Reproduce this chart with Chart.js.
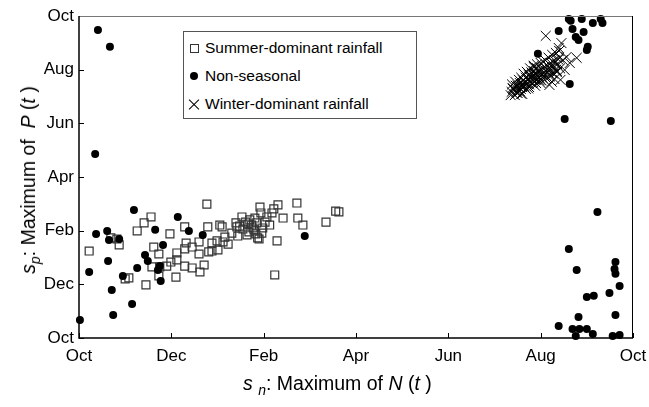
<!DOCTYPE html>
<html>
<head>
<meta charset="utf-8">
<script src="https://cdn.jsdelivr.net/npm/chart.js@4.4.1/dist/chart.umd.min.js"></script>
<style>
    body { margin: 0; background: #fff; }
    #wrap { position: relative; width: 649px; height: 407px; font-family: "Liberation Sans", Arial, sans-serif; color: #000; }
    #grafico { position: absolute; left: 0; top: 0; }
    .legenda { position: absolute; left: 183px; top: 31px; width: 232px; height: 86px; border: 1px solid #555; background: #fff; }
    .linha { position: absolute; left: 0; height: 20px; line-height: 20px; font-size: 15.5px; white-space: nowrap; }
    .linha span.txt { position: absolute; left: 21px; top: 0; }
    .quad { position: absolute; left: 6px; top: 6px; width: 7px; height: 7px; border: 1px solid #333; }
    .bola { position: absolute; left: 6px; top: 6px; width: 8px; height: 8px; border-radius: 50%; background: #000; }
    .xis { position: absolute; left: 4px; top: 4px; width: 12px; height: 12px; }
    .xis:before, .xis:after { content: ''; position: absolute; left: -1px; top: 5.5px; width: 14px; height: 1px; background: #000; }
    .xis:before { transform: rotate(45deg); }
    .xis:after { transform: rotate(-45deg); }
    .titulo { position: absolute; font-size: 19.5px; white-space: nowrap; }
    .titulo sub { font-size: 14px; vertical-align: -5px; }
</style>
</head>
<body>
<div id="wrap">
    <canvas id="grafico" width="649" height="407"></canvas>
    <div class="legenda">
        <div class="linha" style="top:6px"><div class="quad"></div><span class="txt">Summer-dominant rainfall</span></div>
        <div class="linha" style="top:34px"><div class="bola"></div><span class="txt">Non-seasonal</span></div>
        <div class="linha" style="top:62px"><div class="xis"></div><span class="txt">Winter-dominant rainfall</span></div>
    </div>
    <div class="titulo" style="left:243px;top:372px"><i>s</i> <sub><i>n</i></sub>: Maximum of <i>N</i> (<i>t</i> )</div>
    <div class="titulo" style="left:30px;top:180px;transform:translate(-50%,-50%) rotate(-90deg)"><i>s</i><sub><i>p</i></sub>: Maximum of &nbsp;<i>P</i> (<i>t</i> )</div>
</div>
<script>
// meses contados a partir de outubro (0 = Oct, 12 = Oct seguinte)
const tickLabels = ['Oct', 'Dec', 'Feb', 'Apr', 'Jun', 'Aug', 'Oct'];

const summerX = [0.22, 0.69, 0.82, 0.87, 1.00, 1.08, 1.26, 1.41, 1.56, 1.45, 1.62, 1.73, 1.58, 1.75, 1.73, 1.90,
    1.99, 2.12, 2.12, 1.97, 2.10, 2.29, 2.32, 2.29, 2.29, 2.45, 2.45, 2.60, 2.60, 2.62, 2.71, 2.77, 2.79, 2.81,
    2.88, 2.88, 2.99, 3.01, 3.05, 3.10, 3.12, 3.16, 3.23, 3.31, 3.40, 3.42, 3.44, 3.48, 3.53, 3.55, 3.61, 3.66,
    3.74, 3.79, 3.83, 3.85, 3.87, 3.90, 3.92, 3.94, 3.96, 4.07, 4.13, 4.18, 4.22, 4.29, 4.24, 4.31, 4.42, 4.72,
    4.74, 4.85, 5.35, 5.56, 5.63, 3.70, 3.77, 3.68, 3.81, 3.64, 3.98, 4.03];
const summerY = [3.24, 3.73, 3.69, 3.47, 2.20, 2.24, 3.99, 4.29, 4.51, 1.98, 3.39, 3.13, 2.65, 2.65, 2.31, 2.68,
    2.83, 2.91, 3.17, 3.88, 2.27, 4.14, 3.54, 3.32, 2.68, 2.61, 3.39, 3.58, 3.13, 2.46, 2.72, 4.99, 4.14, 3.21,
    3.24, 3.54, 3.62, 3.28, 4.21, 4.14, 3.58, 3.76, 3.50, 3.91, 4.29, 4.14, 3.80, 4.17, 4.51, 4.06, 4.32, 4.25,
    4.21, 4.03, 3.88, 4.29, 3.73, 3.69, 4.88, 4.66, 3.91, 4.51, 4.21, 4.66, 4.81, 3.62, 2.35, 4.96, 4.47, 5.03,
    4.47, 4.21, 4.32, 4.73, 4.70, 4.40, 4.10, 3.95, 4.47, 3.84, 4.10, 4.32];

const nonSeasonalX = [0.41, 0.67, 0.35, 0.02, 0.22, 0.37, 0.61, 0.65, 0.87, 0.63, 0.71, 0.74, 0.95, 1.15, 1.19,
    1.26, 1.43, 1.49, 1.65, 1.71, 1.75, 1.77, 1.82, 2.14, 2.38, 2.68, 4.89,
    10.61, 10.65, 10.89, 11.13, 11.30, 11.34, 10.39, 10.69, 10.76, 10.82, 10.93, 11.00, 11.02, 9.94, 10.63,
    10.52, 11.52,
    11.23, 10.61, 10.78, 11.62, 11.60, 11.62, 11.71, 11.00, 11.15, 11.49, 10.82, 11.62, 10.39, 10.69, 10.84,
    11.00, 10.76, 11.13, 11.56, 11.71];
const nonSeasonalY = [11.48, 10.85, 6.86, 0.67, 2.46, 3.88, 3.99, 3.65, 3.69, 2.87, 1.79, 0.86, 2.31, 1.27, 4.77,
    2.61, 3.09, 2.87, 4.03, 2.53, 2.68, 2.12, 3.47, 4.51, 3.99, 3.84, 3.80,
    11.89, 11.82, 11.89, 11.74, 11.89, 11.74, 11.44, 11.52, 11.22, 11.11, 11.40, 10.73, 10.85, 10.59, 9.47,
    8.16, 8.09,
    4.70, 3.32, 2.53, 2.83, 2.57, 2.39, 1.94, 1.53, 1.57, 1.68, 0.78, 0.86, 0.45, 0.34, 0.34,
    0.34, 0.07, 0.15, 0.07, 0.11];

const winterX = [10.11, 10.45, 10.39, 10.56, 10.78, 10.48, 10.63, 10.52, 10.35, 10.19, 10.43, 9.39, 9.50, 9.37,
    9.59, 9.42, 9.46, 9.48, 9.52, 9.55, 9.57, 9.60, 9.62, 9.64, 9.66, 9.68, 9.70, 9.72, 9.74, 9.76, 9.78, 9.80,
    9.82, 9.84, 9.86, 9.88, 9.90, 9.92, 9.94, 9.96, 9.98, 10.00, 10.02, 10.04, 10.06, 10.08, 10.10, 10.12, 10.15,
    10.18, 10.20, 10.22, 10.25, 10.28, 10.30, 10.33, 10.36, 10.40, 10.30, 10.24, 9.90, 9.75, 9.58, 9.44, 10.05,
    9.85,
    9.35, 9.38, 9.40, 9.45, 9.47, 9.50, 9.53, 9.55, 9.58, 9.60, 9.63, 9.65, 9.68, 9.70, 9.72, 9.75, 9.77, 9.80,
    9.82, 9.85, 9.87, 9.90, 9.92, 9.95, 9.97, 10.00, 10.02, 10.05, 10.07, 10.10, 10.12, 10.15, 10.17, 10.20,
    10.22, 10.25, 10.27, 10.30, 10.33, 10.35, 10.38, 10.40, 10.42, 9.60, 9.73, 9.88, 10.00];
const winterY = [11.26, 10.99, 10.81, 10.47, 10.44, 10.36, 10.25, 9.99, 9.91, 9.43, 9.62, 9.32, 9.13, 9.17,
    9.39, 9.25, 9.40, 9.20, 9.35, 9.50, 9.28, 9.45, 9.60, 9.38, 9.55, 9.70, 9.48, 9.62, 9.80, 9.55, 9.70, 9.90,
    9.62, 9.78, 9.95, 9.68, 9.85, 10.05, 9.75, 9.92, 9.60, 9.80, 10.00, 9.70, 9.88, 10.10, 9.80, 9.95, 10.15,
    9.85, 10.02, 10.25, 9.90, 10.10, 10.35, 10.00, 10.20, 10.45, 9.65, 9.55, 9.50, 9.35, 9.10, 9.05, 10.30,
    10.15,
    9.05, 9.45, 9.28, 9.55, 9.15, 9.40, 9.62, 9.20, 9.70, 9.35, 9.85, 9.50, 9.28, 9.92, 9.65, 9.45, 10.05, 9.75,
    9.50, 10.10, 9.85, 9.62, 10.20, 9.95, 9.70, 10.25, 9.60, 10.05, 9.78, 10.35, 9.68, 10.00, 10.45, 9.75,
    10.15, 10.55, 9.85, 10.25, 10.62, 9.95, 10.38, 10.70, 10.05, 9.10, 9.30, 9.40, 9.50];

function pontos(xs, ys) {
    return xs.map((x, i) => ({ x: x, y: ys[i] }));
}

// moldura do grafico e tracinhos para dentro
const moldura = {
    id: 'moldura',
    afterDraw(chart) {
        const ctx = chart.ctx;
        const a = chart.chartArea;
        const sx = chart.scales.x;
        const sy = chart.scales.y;
        ctx.save();
        ctx.strokeStyle = '#000';
        ctx.lineWidth = 1;
        ctx.beginPath();
        sx.ticks.forEach((t) => {
            const px = Math.round(sx.getPixelForValue(t.value)) + 0.5;
            ctx.moveTo(px, a.bottom);
            ctx.lineTo(px, a.bottom - 5);
        });
        sy.ticks.forEach((t) => {
            const py = Math.round(sy.getPixelForValue(t.value)) + 0.5;
            ctx.moveTo(a.left, py);
            ctx.lineTo(a.left + 5, py);
        });
        ctx.stroke();
        ctx.strokeStyle = '#777';
        ctx.beginPath();
        ctx.moveTo(a.left, a.top + 0.5);
        ctx.lineTo(a.right, a.top + 0.5);
        ctx.stroke();
        ctx.strokeStyle = '#000';
        ctx.beginPath();
        ctx.moveTo(a.right - 0.5, a.top);
        ctx.lineTo(a.right - 0.5, a.bottom);
        ctx.stroke();
        ctx.lineWidth = 1.5;
        ctx.beginPath();
        ctx.moveTo(a.left, a.top);
        ctx.lineTo(a.left, a.bottom);
        ctx.lineTo(a.right, a.bottom);
        ctx.stroke();
        ctx.restore();
    }
};

const fonteTicks = { family: '"Liberation Sans", Arial, sans-serif', size: 17 };

const config = {
    type: 'scatter',
    data: {
        datasets: [{
            label: 'Non-seasonal',
            data: pontos(nonSeasonalX, nonSeasonalY),
            pointStyle: 'circle',
            pointRadius: 4,
            backgroundColor: '#000',
            borderColor: '#000',
            borderWidth: 0,
            clip: false
        }, {
            label: 'Summer-dominant rainfall',
            data: pontos(summerX, summerY),
            pointStyle: 'rect',
            pointRadius: 5.6,
            backgroundColor: 'rgba(0,0,0,0)',
            borderColor: '#333',
            borderWidth: 1.2,
            clip: false
        }, {
            label: 'Winter-dominant rainfall',
            data: pontos(winterX, winterY),
            pointStyle: 'crossRot',
            pointRadius: 7,
            backgroundColor: '#000',
            borderColor: '#000',
            borderWidth: 1,
            clip: false
        }]
    },
    options: {
        responsive: false,
        animation: false,
        layout: { padding: { top: 16, right: 16, left: 0, bottom: 0 } },
        plugins: {
            legend: { display: false },
            tooltip: { enabled: false }
        },
        scales: {
            x: {
                type: 'linear',
                min: 0,
                max: 12,
                afterFit(scale) {
                    scale.height = 69;
                    scale.paddingLeft = 0;
                    scale.paddingRight = 0;
                },
                grid: { display: false, drawTicks: false },
                border: { display: false },
                ticks: {
                    stepSize: 2,
                    padding: 8,
                    color: '#000',
                    font: fonteTicks,
                    maxRotation: 0,
                    callback: (v) => tickLabels[v / 2]
                }
            },
            y: {
                type: 'linear',
                min: 0,
                max: 12,
                afterFit(scale) {
                    scale.width = 79;
                    scale.paddingTop = 0;
                    scale.paddingBottom = 0;
                },
                grid: { display: false, drawTicks: false },
                border: { display: false },
                ticks: {
                    stepSize: 2,
                    padding: 5,
                    color: '#000',
                    font: fonteTicks,
                    callback: (v) => tickLabels[v / 2]
                }
            }
        }
    },
    plugins: [moldura]
};

var chart = new Chart(document.getElementById('grafico'), config);
</script>
</body>
</html>
